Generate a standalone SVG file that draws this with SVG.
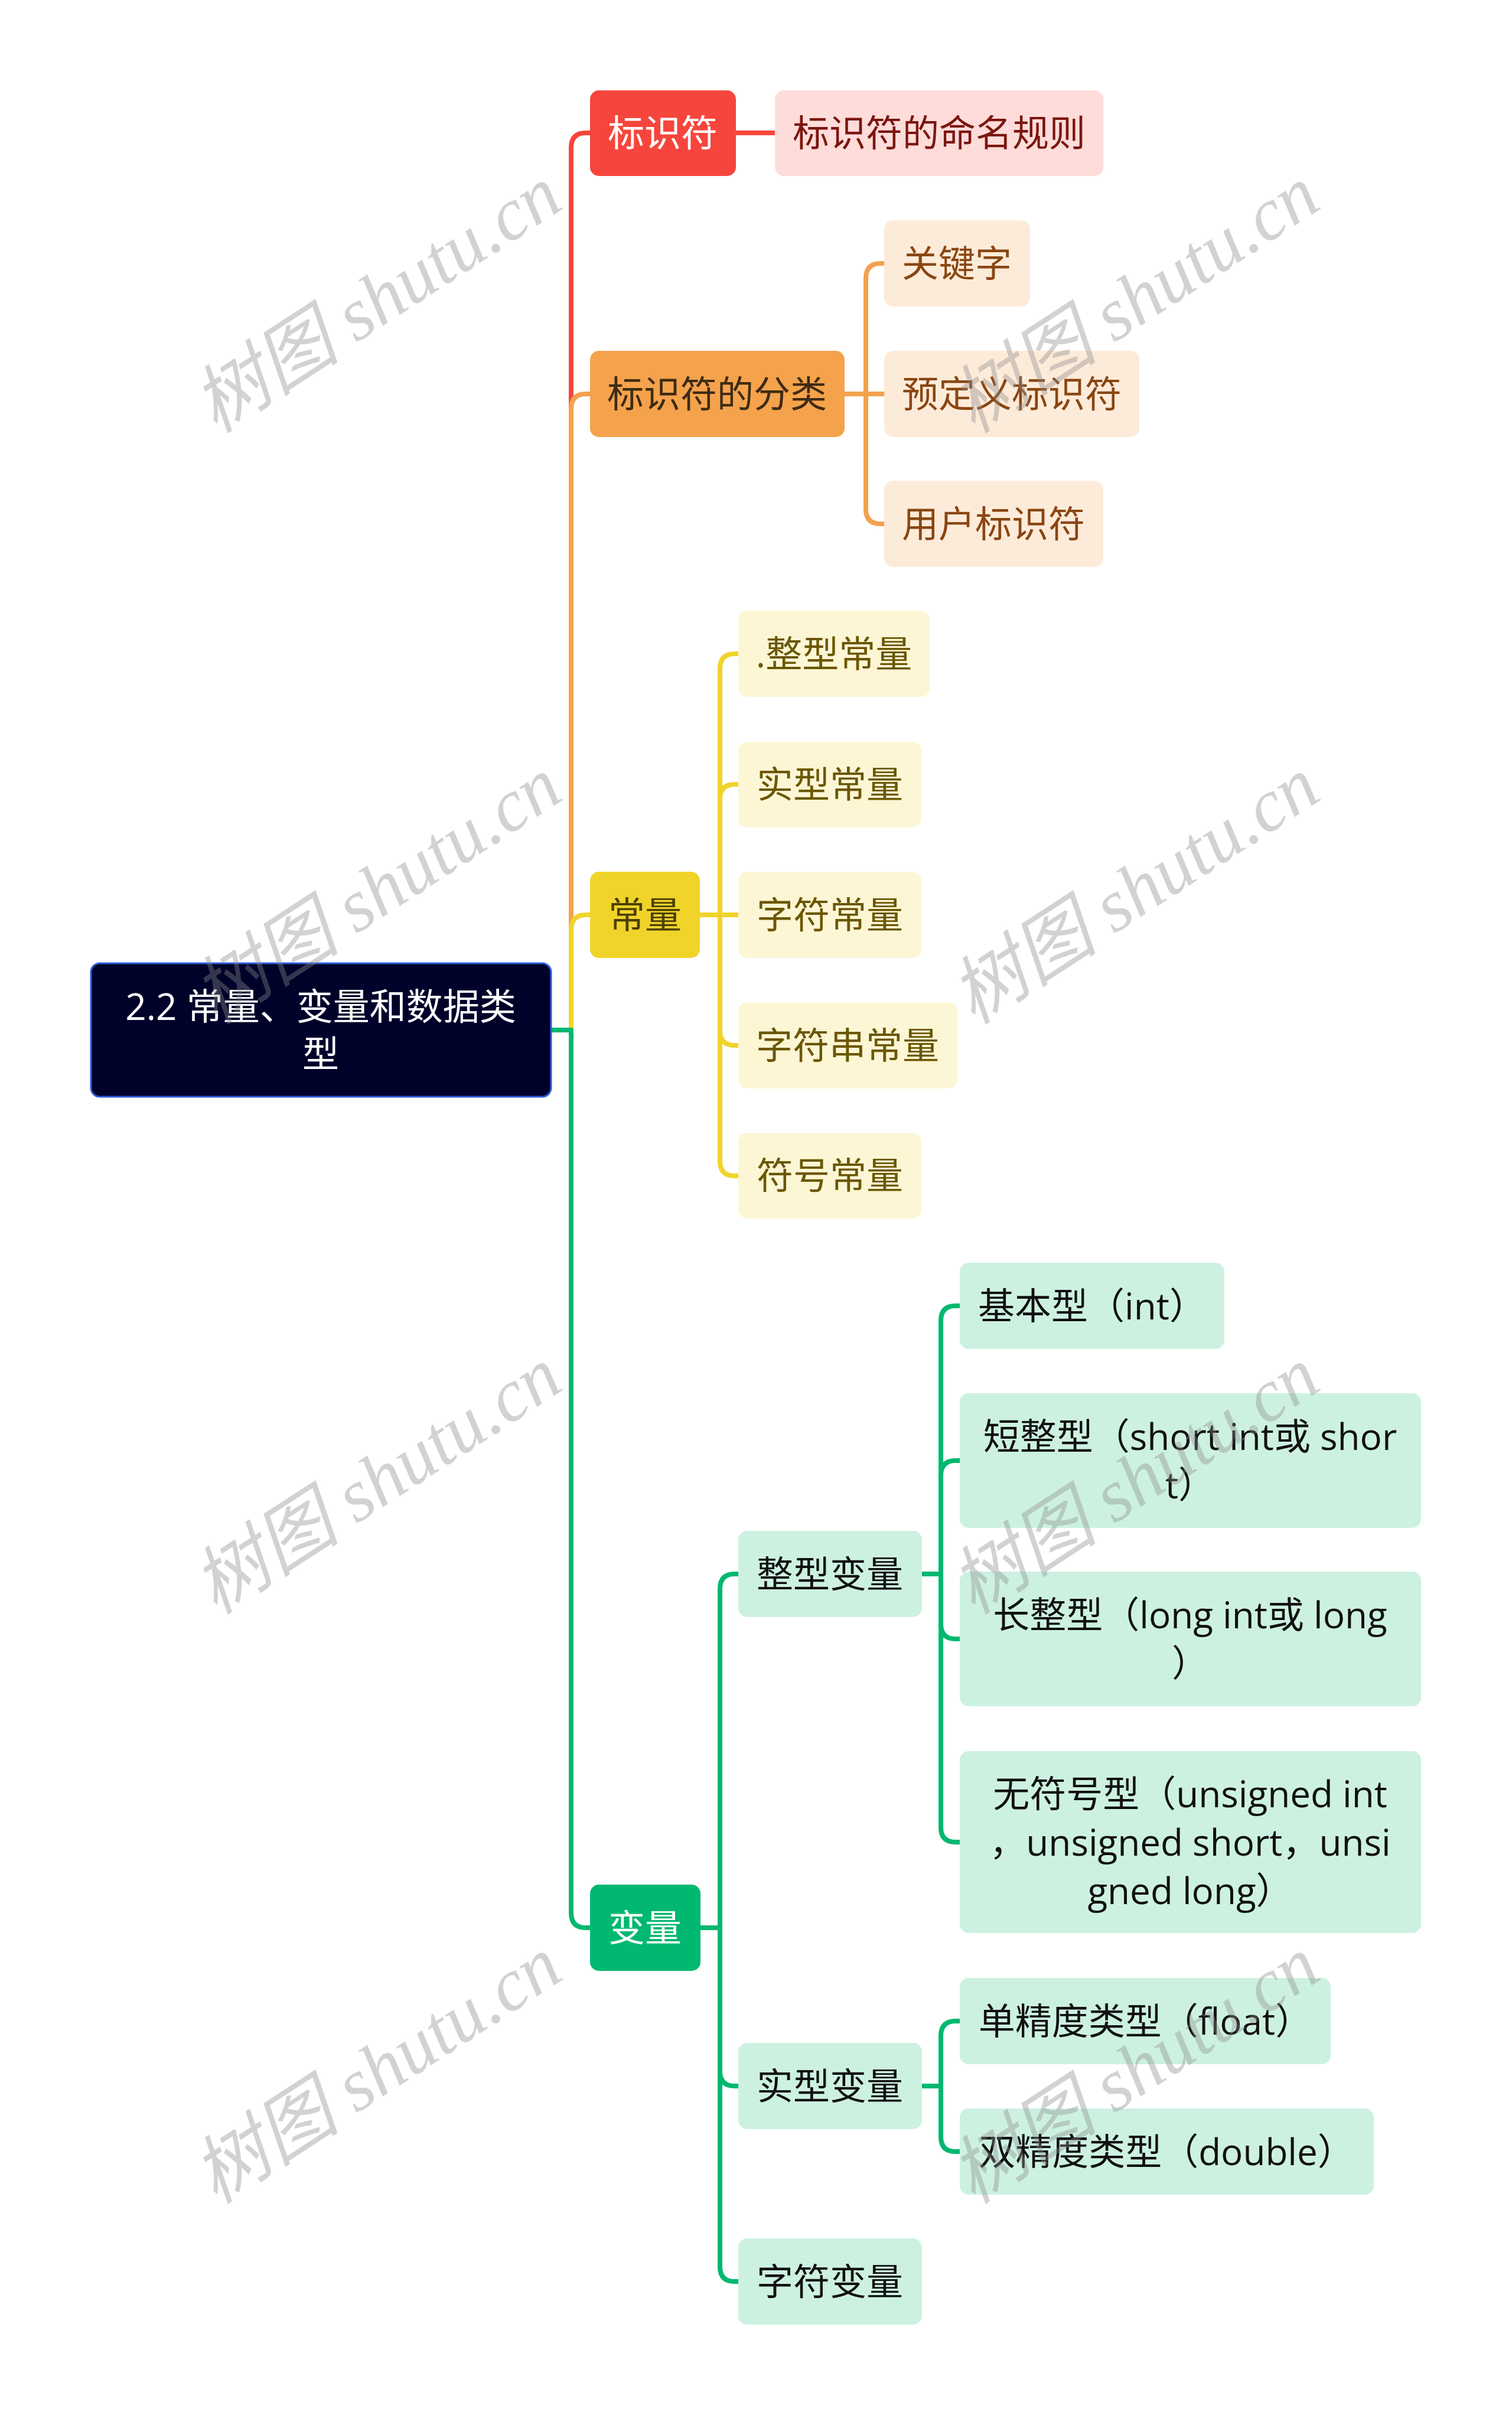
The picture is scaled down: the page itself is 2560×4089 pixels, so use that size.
<svg xmlns="http://www.w3.org/2000/svg" width="2560" height="4089" viewBox="0 0 2560 4089">
<style>
.t{font-family:"Open Sans","Noto Sans CJK SC",sans-serif;font-size:62px;text-anchor:middle}
.c{fill:none;stroke-width:8;stroke-linejoin:round;stroke-linecap:butt}
.red{stroke:#f6453c}.org{stroke:#f2a24e}.yel{stroke:#f0d42a}.grn{stroke:#00b870}
.wm{font-family:"Liberation Serif","Noto Sans CJK SC",serif;font-style:italic;font-size:126px;fill:#8c8c8c;opacity:0.38;text-anchor:middle}
</style>
<rect width="2560" height="4089" fill="#ffffff"/>
<g id="connectors">
<path class="c red" d="M933 1744 H967 V250 Q967 225 992 225 H999"/>
<path class="c org" d="M933 1744 H967 V692 Q967 667 992 667 H999"/>
<path class="c yel" d="M933 1744 H967 V1574 Q967 1549 992 1549 H999"/>
<path class="c grn" d="M933 1744 H967 V3239 Q967 3264 992 3264 H999"/>
<path class="c red" d="M1246 225 H1312"/>
<path class="c org" d="M1430 667 H1466 V471 Q1466 446 1491 446 H1497"/>
<path class="c org" d="M1430 667 H1497"/>
<path class="c org" d="M1430 667 H1466 V862 Q1466 887 1491 887 H1497"/>
<path class="c yel" d="M1185 1549 H1219 V1132 Q1219 1107 1244 1107 H1250"/>
<path class="c yel" d="M1185 1549 H1219 V1353 Q1219 1328 1244 1328 H1250"/>
<path class="c yel" d="M1185 1549 H1250"/>
<path class="c yel" d="M1185 1549 H1219 V1745 Q1219 1770 1244 1770 H1250"/>
<path class="c yel" d="M1185 1549 H1219 V1966 Q1219 1991 1244 1991 H1250"/>
<path class="c grn" d="M1186 3264 H1219 V2690 Q1219 2665 1244 2665 H1250"/>
<path class="c grn" d="M1186 3264 H1219 V3507 Q1219 3532 1244 3532 H1250"/>
<path class="c grn" d="M1186 3264 H1219 V3838 Q1219 3863 1244 3863 H1250"/>
<path class="c grn" d="M1561 2665 H1593 V2236 Q1593 2211 1618 2211 H1625"/>
<path class="c grn" d="M1561 2665 H1593 V2498 Q1593 2473 1618 2473 H1625"/>
<path class="c grn" d="M1561 2665 H1593 V2750 Q1593 2775 1618 2775 H1625"/>
<path class="c grn" d="M1561 2665 H1593 V3094 Q1593 3119 1618 3119 H1625"/>
<path class="c grn" d="M1561 3532 H1593 V3447 Q1593 3422 1618 3422 H1625"/>
<path class="c grn" d="M1561 3532 H1593 V3618 Q1593 3643 1618 3643 H1625"/>
</g>
<g id="root">
<rect x="154" y="1631" width="779" height="226" rx="15" fill="#00022a" stroke="#2f5ed8" stroke-width="3"/>
<text class="t" fill="#ffffff"><tspan x="543" y="1727">2.2 常量、变量和数据类</tspan><tspan x="543" y="1807">型</tspan></text>
</g>
<g id="n-biaoshifu">
<rect x="999" y="153" width="247" height="145" rx="15" fill="#f6453c"/>
<text class="t" x="1122" y="248" fill="#ffffff">标识符</text>
</g>
<g id="n-mingming">
<rect x="1312" y="153" width="556" height="145" rx="15" fill="#fedcda"/>
<text class="t" x="1590" y="248" fill="#7b1610">标识符的命名规则</text>
</g>
<g id="n-fenlei">
<rect x="999" y="594" width="431" height="146" rx="15" fill="#f5a24c"/>
<text class="t" x="1214" y="690" fill="#3d2b14">标识符的分类</text>
</g>
<g id="n-guanjianzi">
<rect x="1497" y="373" width="247" height="146" rx="15" fill="#fdebd9"/>
<text class="t" x="1620" y="469" fill="#8a4612">关键字</text>
</g>
<g id="n-yudingyi">
<rect x="1497" y="594" width="432" height="146" rx="15" fill="#fdebd9"/>
<text class="t" x="1713" y="690" fill="#8a4612">预定义标识符</text>
</g>
<g id="n-yonghu">
<rect x="1497" y="814" width="371" height="146" rx="15" fill="#fdebd9"/>
<text class="t" x="1682" y="910" fill="#8a4612">用户标识符</text>
</g>
<g id="n-changliang">
<rect x="999" y="1476" width="186" height="146" rx="15" fill="#f0d42a"/>
<text class="t" x="1092" y="1572" fill="#4d4000">常量</text>
</g>
<g id="n-zhengxingcl">
<rect x="1250" y="1034" width="324" height="146" rx="15" fill="#fcf6d5"/>
<text class="t" x="1412" y="1130" fill="#6b5700">.整型常量</text>
</g>
<g id="n-shixingcl">
<rect x="1250" y="1256" width="310" height="145" rx="15" fill="#fcf6d5"/>
<text class="t" x="1405" y="1351" fill="#6b5700">实型常量</text>
</g>
<g id="n-zifucl">
<rect x="1250" y="1476" width="310" height="146" rx="15" fill="#fcf6d5"/>
<text class="t" x="1405" y="1572" fill="#6b5700">字符常量</text>
</g>
<g id="n-zifuchuancl">
<rect x="1250" y="1697" width="371" height="146" rx="15" fill="#fcf6d5"/>
<text class="t" x="1435" y="1793" fill="#6b5700">字符串常量</text>
</g>
<g id="n-fuhaocl">
<rect x="1250" y="1918" width="310" height="145" rx="15" fill="#fcf6d5"/>
<text class="t" x="1405" y="2013" fill="#6b5700">符号常量</text>
</g>
<g id="n-bianliang">
<rect x="999" y="3191" width="187" height="146" rx="15" fill="#00b870"/>
<text class="t" x="1092" y="3287" fill="#ffffff">变量</text>
</g>
<g id="n-zhengxingbl">
<rect x="1250" y="2592" width="311" height="146" rx="15" fill="#cdf1e1"/>
<text class="t" x="1405" y="2688" fill="#111111">整型变量</text>
</g>
<g id="n-shixingbl">
<rect x="1250" y="3459" width="311" height="146" rx="15" fill="#cdf1e1"/>
<text class="t" x="1405" y="3555" fill="#111111">实型变量</text>
</g>
<g id="n-zifubl">
<rect x="1250" y="3790" width="311" height="146" rx="15" fill="#cdf1e1"/>
<text class="t" x="1405" y="3886" fill="#111111">字符变量</text>
</g>
<g id="n-jiben">
<rect x="1625" y="2138" width="448" height="146" rx="15" fill="#cdf1e1"/>
<text class="t" x="1849" y="2234" fill="#111111">基本型（int）</text>
</g>
<g id="n-duan">
<rect x="1625" y="2359" width="781" height="228" rx="15" fill="#cdf1e1"/>
<text class="t" fill="#111111"><tspan x="2015" y="2455">短整型（short int或 shor</tspan><tspan x="2015" y="2537">t）</tspan></text>
</g>
<g id="n-chang">
<rect x="1625" y="2661" width="781" height="228" rx="15" fill="#cdf1e1"/>
<text class="t" fill="#111111"><tspan x="2015" y="2757">长整型（long int或 long</tspan><tspan x="2015" y="2839">）</tspan></text>
</g>
<g id="n-wufuhao">
<rect x="1625" y="2965" width="781" height="308" rx="15" fill="#cdf1e1"/>
<text class="t" fill="#111111"><tspan x="2015" y="3060">无符号型（unsigned int</tspan><tspan x="2015" y="3142">，unsigned short，unsi</tspan><tspan x="2015" y="3224">gned long）</tspan></text>
</g>
<g id="n-danjingdu">
<rect x="1625" y="3349" width="628" height="146" rx="15" fill="#cdf1e1"/>
<text class="t" x="1939" y="3445" fill="#111111">单精度类型（float）</text>
</g>
<g id="n-shuangjingdu">
<rect x="1625" y="3570" width="701" height="146" rx="15" fill="#cdf1e1"/>
<text class="t" x="1975" y="3666" fill="#111111">双精度类型（double）</text>
</g>
<g id="watermarks">
<text class="wm" transform="translate(641 511) rotate(-33)" x="0" y="38">树图 shutu.cn</text>
<text class="wm" transform="translate(1924 511) rotate(-33)" x="0" y="38">树图 shutu.cn</text>
<text class="wm" transform="translate(641 1512) rotate(-33)" x="0" y="38">树图 shutu.cn</text>
<text class="wm" transform="translate(1924 1512) rotate(-33)" x="0" y="38">树图 shutu.cn</text>
<text class="wm" transform="translate(641 2511) rotate(-33)" x="0" y="38">树图 shutu.cn</text>
<text class="wm" transform="translate(1924 2511) rotate(-33)" x="0" y="38">树图 shutu.cn</text>
<text class="wm" transform="translate(641 3509) rotate(-33)" x="0" y="38">树图 shutu.cn</text>
<text class="wm" transform="translate(1924 3509) rotate(-33)" x="0" y="38">树图 shutu.cn</text>
</g>
</svg>
